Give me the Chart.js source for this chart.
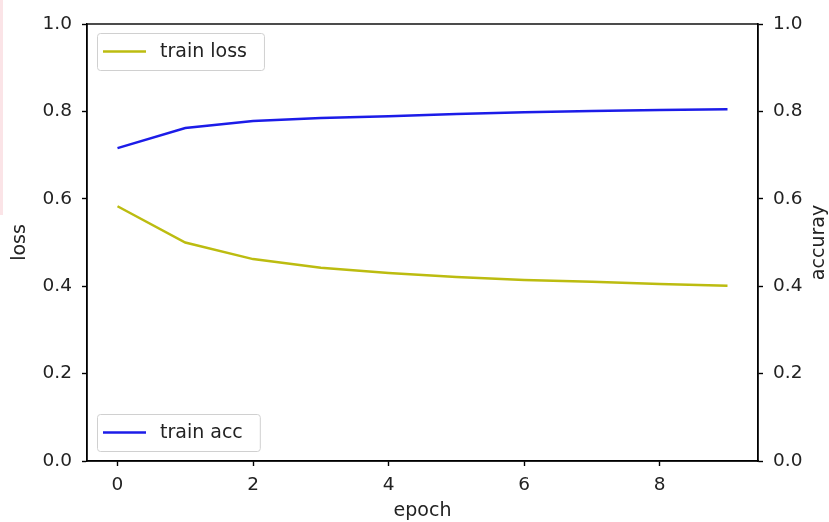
<!DOCTYPE html>
<html>
<head>
<meta charset="utf-8">
<script src="https://cdn.jsdelivr.net/npm/chart.js@4/dist/chart.umd.min.js"></script>
<style>
  html, body { margin: 0; padding: 0; background: #fff; }
  #wrap { position: relative; width: 829px; height: 522px; }
  #edge { position: absolute; left: 0; top: 0; width: 3px; height: 215px; background: #fbe4e7; }
</style>
</head>
<body>
<div id="wrap">
  <canvas id="chart" width="829" height="522"></canvas>
  <div id="edge"></div>
</div>
<script>
const epochs = [0, 1, 2, 3, 4, 5, 6, 7, 8, 9];
const trainLoss = [0.583, 0.500, 0.462, 0.442, 0.430, 0.421, 0.414, 0.410, 0.405, 0.401];
const trainAcc = [0.716, 0.762, 0.778, 0.785, 0.789, 0.794, 0.798, 0.801, 0.803, 0.805];
const xTicks = [0, 2, 4, 6, 8];
const yTicks = [0, 0.2, 0.4, 0.6, 0.8, 1.0];

const FONT = "DejaVu Sans";
const textColor = "#222";
const lossColor = "#bcbc10";
const accColor = "#1c1ce8";

const toPoints = (vals) => vals.map((v, i) => ({ x: epochs[i], y: v }));

// fixed plot box, like matplotlib
const frame = { left: 87, right: 758, top: 24, bottom: 461 };

const boxPlugin = {
  id: "mplBox",
  afterDraw(chart) {
    const ctx = chart.ctx;
    const a = chart.chartArea;
    ctx.save();
    // frame (top spine mainly)
    ctx.strokeStyle = "#000";
    ctx.lineWidth = 1.4;
    ctx.strokeRect(a.left, a.top, a.right - a.left, a.bottom - a.top);

    // legends inside the plot
    const legends = [
      { label: "train loss", color: lossColor, y: a.top + 9 },
      { label: "train acc", color: accColor, y: a.bottom - 47 },
    ];
    ctx.font = "19px '" + FONT + "'";
    legends.forEach((lg) => {
      const w = ctx.measureText(lg.label).width + 80;
      const x = a.left + 10;
      const h = 37;
      ctx.fillStyle = "rgba(255,255,255,0.8)";
      ctx.strokeStyle = "#d0d0d0";
      ctx.lineWidth = 1;
      ctx.beginPath();
      ctx.roundRect(x + 0.5, lg.y + 0.5, w, h, 3);
      ctx.fill();
      ctx.stroke();
      ctx.strokeStyle = lg.color;
      ctx.lineWidth = 2.5;
      ctx.beginPath();
      ctx.moveTo(x + 6, lg.y + h / 2);
      ctx.lineTo(x + 49, lg.y + h / 2);
      ctx.stroke();
      ctx.fillStyle = textColor;
      ctx.textAlign = "left";
      ctx.textBaseline = "middle";
      ctx.fillText(lg.label, x + 63, lg.y + h / 2 + 1);
    });

    // axis titles
    ctx.fillStyle = textColor;
    ctx.textAlign = "center";
    ctx.textBaseline = "middle";
    ctx.fillText("epoch", (a.left + a.right) / 2, 511);
    const midY = (a.top + a.bottom) / 2;
    ctx.save();
    ctx.translate(20, midY);
    ctx.rotate(-Math.PI / 2);
    ctx.fillText("loss", 0, 0);
    ctx.restore();
    ctx.save();
    ctx.translate(819, midY);
    ctx.rotate(-Math.PI / 2);
    ctx.fillText("accuray", 0, 0);
    ctx.restore();
    ctx.restore();
  },
};

const tickStyle = {
  color: textColor,
  font: { family: FONT, size: 18.5 },
};
const gridStyle = {
  drawOnChartArea: false,
  drawTicks: true,
  tickLength: 5,
  tickWidth: 1.4,
  tickColor: "#000",
};

new Chart(document.getElementById("chart"), {
  type: "line",
  data: {
    datasets: [
      {
        label: "train loss",
        data: toPoints(trainLoss),
        borderColor: lossColor,
        borderWidth: 2.5,
        pointRadius: 0,
        tension: 0,
        yAxisID: "y",
      },
      {
        label: "train acc",
        data: toPoints(trainAcc),
        borderColor: accColor,
        borderWidth: 2.5,
        pointRadius: 0,
        tension: 0,
        yAxisID: "y1",
      },
    ],
  },
  options: {
    responsive: false,
    animation: false,
    layout: { padding: { top: frame.top, left: 0, right: 0, bottom: 0 } },
    plugins: { legend: { display: false }, tooltip: { enabled: false } },
    scales: {
      x: {
        type: "linear",
        min: -0.45,
        max: 9.45,
        afterBuildTicks: (s) => { s.ticks = xTicks.map((v) => ({ value: v })); },
        afterFit: (s) => { s.height = 522 - frame.bottom; },
        ticks: { ...tickStyle, padding: 8, maxRotation: 0 },
        grid: gridStyle,
        border: { color: "#000", width: 1.4 },
      },
      y: {
        position: "left",
        min: 0,
        max: 1,
        afterBuildTicks: (s) => { s.ticks = yTicks.map((v) => ({ value: v })); },
        afterFit: (s) => { s.width = frame.left; },
        ticks: { ...tickStyle, padding: 10, callback: (v) => v.toFixed(1) },
        grid: gridStyle,
        border: { color: "#000", width: 1.4 },
      },
      y1: {
        position: "right",
        min: 0,
        max: 1,
        afterBuildTicks: (s) => { s.ticks = yTicks.map((v) => ({ value: v })); },
        afterFit: (s) => { s.width = 829 - frame.right; },
        ticks: { ...tickStyle, padding: 10, callback: (v) => v.toFixed(1) },
        grid: gridStyle,
        border: { color: "#000", width: 1.4 },
      },
    },
  },
  plugins: [boxPlugin],
});
</script>
</body>
</html>
